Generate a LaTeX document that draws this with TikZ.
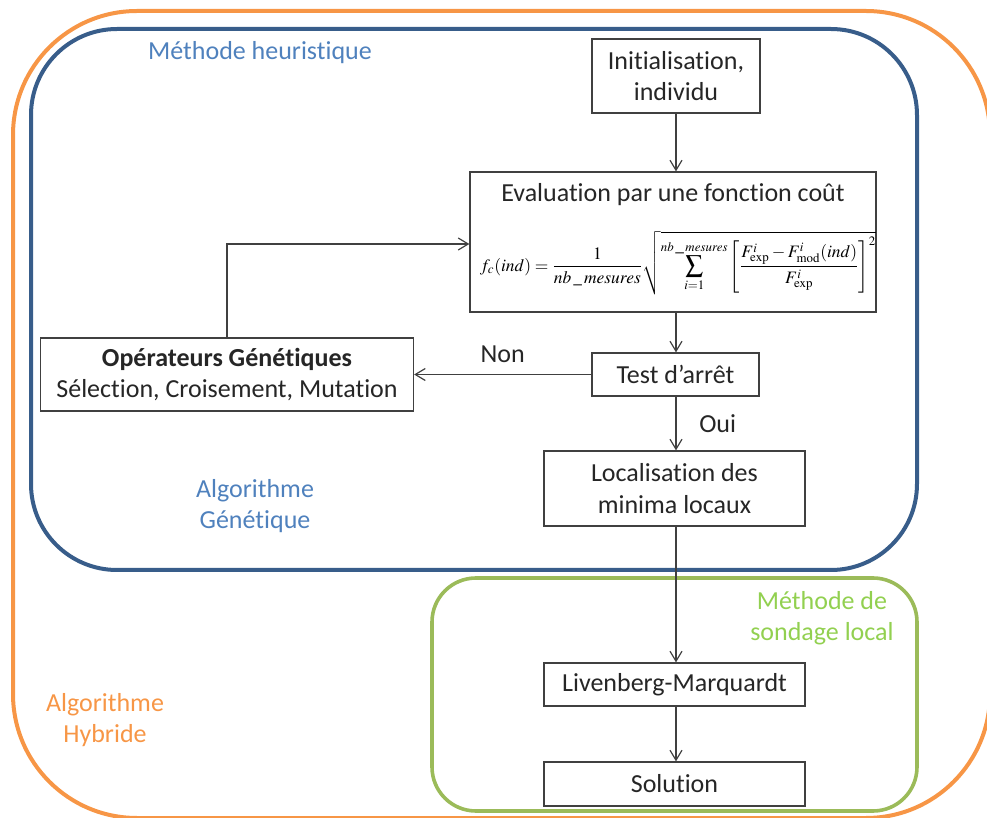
\documentclass[tikz,border=0pt]{standalone}
\usepackage{mathptmx}
\usepackage[no-math]{fontspec}
\setmainfont{Carlito}[Ligatures=NoCommon]
\usetikzlibrary{arrows.meta,calc}
\definecolor{orangec}{HTML}{F79646}
\definecolor{bluec}{HTML}{385D8A}
\definecolor{bluetxt}{HTML}{4F81BD}
\definecolor{greenc}{HTML}{9BBB59}
\definecolor{greentxt}{HTML}{92D050}
\definecolor{boxgray}{HTML}{404040}
\definecolor{txtc}{HTML}{262626}
\begin{document}
\begin{tikzpicture}[x=0.5pt,y=-0.5pt,
  font=\fontsize{13}{15.6}\selectfont,
  box/.style={draw=boxgray, line width=0.6pt, fill=white, align=center, inner sep=0pt, text=txtc},
  arr/.style={draw=boxgray, line width=0.6pt, -{Straight Barb[length=5pt,width=6pt]}},
  lbl/.style={align=center, inner sep=0pt}]
\useasboundingbox (0,0) rectangle (987,818);
\begin{scope}
  \clip (0,0) rectangle (987,818);
  \draw[orangec, line width=2pt, rounded corners=62pt] (13,11) rectangle (990,818);
\end{scope}
\draw[bluec, line width=2pt, rounded corners=43pt] (31,29) rectangle (917,570);
\draw[greenc, line width=1.8pt, rounded corners=22pt] (432,578) rectangle (917,811);

\node[lbl, text=bluetxt] (lblheur) at (260,53) {Méthode heuristique};
\node[lbl, text=bluetxt] (lblgen) at (255,506) {Algorithme\\Génétique};
\node[lbl, text=orangec] (lblhyb) at (105,720) {Algorithme\\Hybride};
\node[lbl, text=greentxt] (lblloc) at (822,618) {Méthode de\\sondage local};

\node[box, minimum width=84pt, minimum height=37pt] (init) at (676,76) {Initialisation,\\individu};
\node[box, minimum width=203pt, minimum height=70pt] (eval) at (673,242) {};
\node[lbl, text=txtc] (evaltitle) at (673,195) {Evaluation par une fonction coût};
\node[lbl] (formula) at (678,263) {\resizebox{198pt}{!}{$\displaystyle f_c(ind)=\frac{1}{nb\,\_\,mesures}\sqrt{\sum_{i=1}^{nb\,\_\,mesures}\left[\frac{F^i_{\mathrm{exp}}-F^i_{\mathrm{mod}}(ind)}{F^i_{\mathrm{exp}}}\right]^2}$}};
\node[box, minimum width=83.5pt, minimum height=21.5pt] (test) at (675.5,374.5) {Test d’arrêt};
\node[box, minimum width=186.5pt, minimum height=36.5pt] (op) at (227,374.5) {\textbf{Opérateurs Génétiques}\\Sélection, Croisement, Mutation};
\node[box, minimum width=130.5pt, minimum height=37.5pt] (loc) at (674.5,488.5) {Localisation des\\minima locaux};
\node[box, minimum width=130.5pt, minimum height=21.5pt] (lm) at (674.5,684.5) {Livenberg-Marquardt};
\node[box, minimum width=130.5pt, minimum height=22pt] (sol) at (674.5,784) {Solution};

\coordinate (fb) at (0,244);
\coordinate (vx) at (676,0);
\draw[arr] (init.south -| vx) -- (eval.north -| vx);
\draw[arr] (eval.south -| vx) -- (test.north -| vx);
\draw[arr] (test.south -| vx) -- node[right=8pt, text=txtc] (oui) {Oui} (loc.north -| vx);
\draw[arr] (test.west) -- node[above=2.5pt, text=txtc] (non) {Non} (op.east);
\draw[arr] (op.north) |- (eval.west |- fb);
\draw[arr] (loc.south -| vx) -- (lm.north -| vx);
\draw[arr] (lm.south -| vx) -- (sol.north -| vx);
\end{tikzpicture}
\end{document}
